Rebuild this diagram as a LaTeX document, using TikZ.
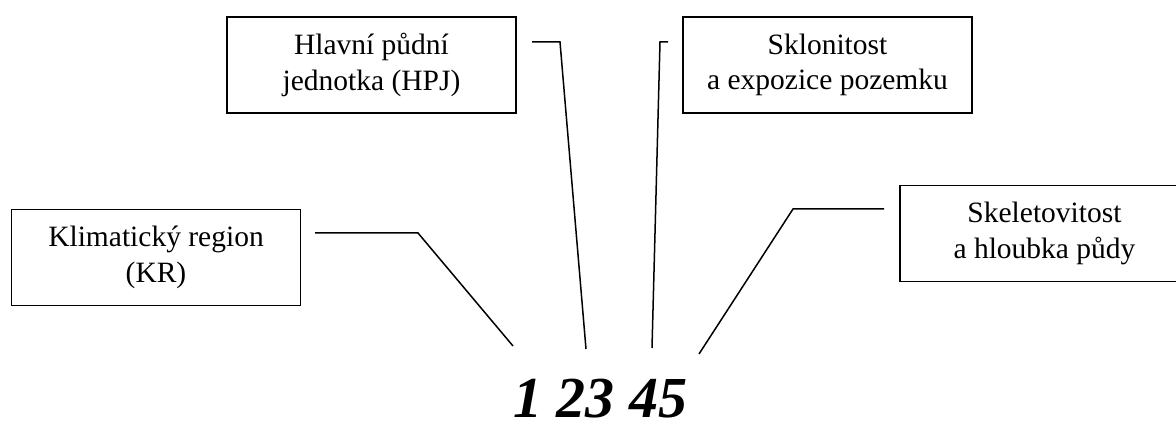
\documentclass[tikz,border=0pt]{standalone}
\usepackage{fontspec}
\setmainfont{Liberation Serif}
\begin{document}
\begin{tikzpicture}[x=1pt,y=-1pt,
  infobox/.style={draw, line width=1.5pt, minimum width=289pt, minimum height=96pt,
    inner sep=0pt, align=center, font=\fontsize{29.5}{35.5}\selectfont},
  leader/.style={line width=1.5pt, line join=miter}]
\useasboundingbox (0,0) rectangle (1176,422);

% labelled boxes
\node[infobox] (kr)   at (156,257.5)  {Klimatický region\\(KR)};
\node[infobox] (hpj)  at (371.5,65)   {Hlavní půdní\\jednotka (HPJ)};
\node[infobox] (skl)  at (827.5,65)   {Sklonitost\\a expozice pozemku};
\node[infobox] (ske)  at (1044.5,233.5) {Skeletovitost\\a hloubka půdy};

% the code itself
\node[anchor=base, inner sep=0pt, font=\fontsize{58}{60}\selectfont\bfseries\itshape]
  (code) at (600,417.5) {1 23 45};

% leader lines
\coordinate (kr-a) at (315,233);
\coordinate (kr-b) at (418,233);
\coordinate (kr-c) at (513,346);
\coordinate (hpj-a) at (532,42);
\coordinate (hpj-b) at (560,42);
\coordinate (hpj-c) at (586,349);
\coordinate (skl-a) at (668,42);
\coordinate (skl-b) at (660,42);
\coordinate (skl-c) at (652,348);
\coordinate (ske-a) at (884,209);
\coordinate (ske-b) at (793,209);
\coordinate (ske-c) at (699,354);

\draw[leader] (kr-a) -- (kr-b) -- (kr-c);
\draw[leader] (hpj-a) -- (hpj-b) -- (hpj-c);
\draw[leader] (skl-a) -- (skl-b) -- (skl-c);
\draw[leader] (ske-a) -- (ske-b) -- (ske-c);
\end{tikzpicture}
\end{document}
